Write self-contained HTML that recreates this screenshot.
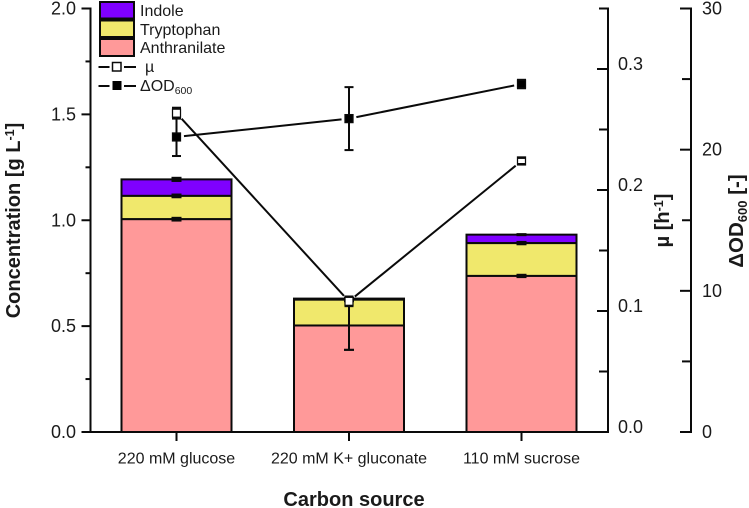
<!DOCTYPE html>
<html lang="en">
<head>
<meta charset="utf-8">
<title>Concentration, growth rate and ΔOD600 by carbon source</title>
<style>
html,body{margin:0;padding:0;background:#fff;}
svg{display:block;font-family:"Liberation Sans",Arial,sans-serif;}
text{fill:#1a1a1a;}
</style>
</head>
<body>
<svg id="chart" xmlns="http://www.w3.org/2000/svg" width="749" height="508" viewBox="0 0 749 508">
  <rect x="0" y="0" width="749" height="508" fill="#fff"/>
  <g id="plot"></g>
  <g>
    <g>
      <rect x="100" y="2" width="34" height="16.5" fill="#7F00FF" stroke="#0a0a0a" stroke-width="2"/>
      <text x="140" y="16" font-size="16">Indole</text>
    </g>
    <g>
      <rect x="100" y="20.5" width="34" height="16.5" fill="#F0E86C" stroke="#0a0a0a" stroke-width="2"/>
      <text x="140" y="35" font-size="16">Tryptophan</text>
    </g>
    <g>
      <rect x="100" y="39" width="34" height="17" fill="#FF9999" stroke="#0a0a0a" stroke-width="2"/>
      <text x="140" y="53" font-size="16">Anthranilate</text>
    </g>
    <g>
      <line x1="98.5" y1="67" x2="109.5" y2="67" stroke="#0a0a0a" stroke-width="2"/>
      <line x1="124" y1="67" x2="136" y2="67" stroke="#0a0a0a" stroke-width="2"/>
      <rect x="112.5" y="62.5" width="8.5" height="8.5" fill="#fff" stroke="#0a0a0a" stroke-width="1.5"/>
      <text x="145" y="72" font-size="16">µ</text>
    </g>
    <g>
      <line x1="98.5" y1="86" x2="109.5" y2="86" stroke="#0a0a0a" stroke-width="2"/>
      <line x1="124" y1="86" x2="136" y2="86" stroke="#0a0a0a" stroke-width="2"/>
      <rect x="112.5" y="81" width="9" height="9" fill="#000"/>
      <text x="140" y="91" font-size="16">ΔOD<tspan font-size="10.5" dy="3">600</tspan></text>
    </g>
  </g>
  <text x="354" y="506" font-size="20" font-weight="bold" text-anchor="middle">Carbon source</text>
  <text transform="translate(20,220.5) rotate(-90)" font-size="20" font-weight="bold" text-anchor="middle">Concentration [g L<tspan font-size="12.5" dy="-6">-1</tspan><tspan dy="6">]</tspan></text>
  <text transform="translate(669,220.5) rotate(-90)" font-size="20" font-weight="bold" text-anchor="middle">µ [h<tspan font-size="12.5" dy="-6">-1</tspan><tspan dy="6">]</tspan></text>
  <text transform="translate(743,221) rotate(-90)" font-size="20.5" font-weight="bold" text-anchor="middle">ΔOD<tspan font-size="13" dy="4">600</tspan><tspan dy="-4"> [-]</tspan></text>
</svg>
<script>
const categories = ["220 mM glucose", "220 mM K+ gluconate", "110 mM sucrose"];
const anthranilate = [1.005, 0.503, 0.737];
const tryptophan = [0.110, 0.122, 0.155];
const indole = [0.078, 0.005, 0.040];
const anthranilateErr = [0.006, 0.115, 0.005];
const tryptophanErr = [0.006, 0.004, 0.005];
const indoleErr = [0.007, 0.003, 0.002];
const mu = [0.2635, 0.108, 0.224];
const muErr = [0.0045, 0.004, 0.0025];
const deltaOD = [20.9, 22.2, 24.65];
const deltaODErr = [1.35, 2.23, 0.3];
const concTicks = [0, 0.5, 1.0, 1.5, 2.0];
const concMinorTicks = [0.25, 0.75, 1.25, 1.75];
const muTicks = [0, 0.1, 0.2, 0.3];
const muMinorTicks = [0.05, 0.15, 0.25, 0.35];
const odTicks = [0, 10, 20, 30];
const odMinorTicks = [5, 15, 25];

const plot = document.getElementById('plot');
const NS = 'http://www.w3.org/2000/svg';
const INK = '#0a0a0a';
const BASE = 432, TOP = 8.5;
const LEFT_X = 90.5, MU_X = 608, OD_X = 691;
const CAT_0 = 176.5, CAT_STEP = 172.5, BAR_W = 110;

const xPos = i => CAT_0 + i * CAT_STEP;
const yConc = v => BASE - (BASE - TOP) * v / 2;
const yMu = v => BASE - (BASE - TOP) * v / 0.35;
const yOD = v => BASE - (BASE - TOP) * v / 30;

function add(tag, attrs, name, parent) {
  const el = document.createElementNS(NS, tag);
  for (const k in attrs) el.setAttribute(k, attrs[k]);
  
  
  (parent || plot).appendChild(el);
  return el;
}
function seg(x1, y1, x2, y2, w, name) {
  return add('line', {x1, y1, x2, y2, stroke: INK, 'stroke-width': w}, name);
}

// stacked bars
categories.forEach((c, i) => {
  const x = xPos(i) - BAR_W / 2;
  const a = anthranilate[i], t = a + tryptophan[i], n = t + indole[i];
  add('rect', {x, y: yConc(n), width: BAR_W, height: yConc(t) - yConc(n), fill: '#7F00FF', stroke: INK, 'stroke-width': 2}, 'bar-indole-' + i);
  add('rect', {x, y: yConc(t), width: BAR_W, height: yConc(a) - yConc(t), fill: '#F0E86C', stroke: INK, 'stroke-width': 2}, 'bar-tryptophan-' + i);
  add('rect', {x, y: yConc(a), width: BAR_W, height: yConc(0) - yConc(a), fill: '#FF9999', stroke: INK, 'stroke-width': 2}, 'bar-anthranilate-' + i);
});

// error bars
function errStem(x, yLo, yHi, name) {
  seg(x, yLo, x, yHi, 2, name + '-stem');
}
function errCaps(x, yLo, yHi, capW, capH, name) {
  seg(x - capW / 2, yLo, x + capW / 2, yLo, capH, name + '-cap-low');
  seg(x - capW / 2, yHi, x + capW / 2, yHi, capH, name + '-cap-high');
}
function errBar(x, yLo, yHi, capW, capH, name) {
  errStem(x, yLo, yHi, name);
  errCaps(x, yLo, yHi, capW, capH, name);
}
categories.forEach((c, i) => {
  const a = anthranilate[i], t = a + tryptophan[i], n = t + indole[i];
  errBar(xPos(i), yConc(a - anthranilateErr[i]), yConc(a + anthranilateErr[i]), 10, 2.2, 'error-anthranilate-' + i);
  errBar(xPos(i), yConc(t - tryptophanErr[i]), yConc(t + tryptophanErr[i]), 10, 2.2, 'error-tryptophan-' + i);
  errBar(xPos(i), yConc(n - indoleErr[i]), yConc(n + indoleErr[i]), 10, 2.2, 'error-indole-' + i);
});

// axes
seg(LEFT_X, TOP - 1, LEFT_X, BASE + 1, 2, 'left-y-axis-line');
seg(LEFT_X - 9, BASE, MU_X + 1, BASE, 2, 'x-axis-line');
seg(MU_X, TOP - 1, MU_X, BASE + 1, 2, 'mu-axis-line');
seg(OD_X, TOP - 1, OD_X, BASE + 1, 2, 'od-axis-line');

concTicks.forEach(v => {
  seg(LEFT_X - 9, yConc(v), LEFT_X, yConc(v), 2, 'left-tick');
  const t = add('text', {x: 76, y: yConc(v) + 6, 'font-size': 18, 'text-anchor': 'end'}, 'left-tick-label');
  t.textContent = v.toFixed(1);
});
concMinorTicks.forEach(v => seg(LEFT_X - 5, yConc(v), LEFT_X, yConc(v), 2, 'left-minor-tick'));

muTicks.forEach(v => {
  seg(MU_X - 11, yMu(v), MU_X, yMu(v), 2, 'mu-tick');
  const t = add('text', {x: 618, y: yMu(v) + 1, 'font-size': 18}, 'mu-tick-label');
  t.textContent = v.toFixed(1);
});
muMinorTicks.forEach(v => seg(MU_X - 9, yMu(v), MU_X, yMu(v), 2, 'mu-minor-tick'));

odTicks.forEach(v => {
  seg(OD_X - 11, yOD(v), OD_X, yOD(v), 2, 'od-tick');
  const t = add('text', {x: 702, y: yOD(v) + 6, 'font-size': 18}, 'od-tick-label');
  t.textContent = String(v);
});
odMinorTicks.forEach(v => seg(OD_X - 9, yOD(v), OD_X, yOD(v), 2, 'od-minor-tick'));

categories.forEach((c, i) => {
  seg(xPos(i), BASE, xPos(i), BASE + 9, 2, 'x-tick');
  const t = add('text', {x: xPos(i), y: 463.5, 'font-size': 16, 'text-anchor': 'middle'}, 'x-tick-label');
  t.textContent = c;
});

// line series with gaps around the markers; caps are drawn over the marker
function series(values, errors, yFn, fill, label) {
  const GAP = 7.5;
  for (let i = 0; i < values.length - 1; i++) {
    const x1 = xPos(i), y1 = yFn(values[i]), x2 = xPos(i + 1), y2 = yFn(values[i + 1]);
    const len = Math.hypot(x2 - x1, y2 - y1);
    const ux = (x2 - x1) / len, uy = (y2 - y1) / len;
    seg(x1 + ux * GAP, y1 + uy * GAP, x2 - ux * GAP, y2 - uy * GAP, 2, label + '-line');
  }
  values.forEach((v, i) => {
    errStem(xPos(i), yFn(v - errors[i]), yFn(v + errors[i]), label + '-error-' + i);
    add('rect', {x: xPos(i) - 4, y: yFn(v) - 4, width: 8, height: 8, fill, stroke: INK, 'stroke-width': 1.25}, label + '-marker-' + i);
    errCaps(xPos(i), yFn(v - errors[i]), yFn(v + errors[i]), 9, 2, label + '-error-' + i);
  });
}
series(deltaOD, deltaODErr, yOD, '#000', 'delta-od');
series(mu, muErr, yMu, '#fff', 'mu');
</script>
</body>
</html>
